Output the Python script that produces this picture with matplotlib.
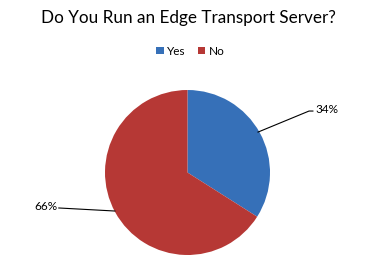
import matplotlib
matplotlib.use("Agg")
import matplotlib.pyplot as plt
from matplotlib.patches import Patch

# Datos del gráfico
categorias = ["Yes", "No"]
valores = [34, 66]
etiquetas = ["34%", "66%"]
colores = ["#3670B8", "#B63835"]

plt.rcParams['font.family'] = ['Lato', 'DejaVu Sans']

fig = plt.figure(figsize=(3.77, 2.72), dpi=100)
fig.patch.set_facecolor("white")

# Titulo
fig.text(0.5, 0.935, "Do You Run an Edge Transport Server?", ha="center", va="center",
         fontsize=12.3, color="black")

# Leyenda
handles = [Patch(facecolor=c, edgecolor="none") for c in colores]
fig.legend(handles, categorias, loc="center", bbox_to_anchor=(0.505, 0.812), ncol=2,
           frameon=False, fontsize=8.5, handlelength=0.65, handleheight=0.65,
           handletextpad=0.3, columnspacing=1.0)

# Tarta
ax = fig.add_axes([0.2785, 0.0625, 0.4377, 0.6066])
ax.pie(valores, colors=colores, startangle=90, counterclock=False, radius=1.0,
       wedgeprops=dict(linewidth=0))
ax.set_xlim(-1, 1)
ax.set_ylim(-1, 1)
ax.set_aspect("equal")
ax.axis("off")

# Etiquetas con lineas guia
ax.plot([0.855, 1.473, 1.52], [0.49, 0.745, 0.745], color="black", lw=0.8, clip_on=False)
ax.text(1.55, 0.765, etiquetas[0], ha="left", va="center", fontsize=8.5, clip_on=False)
ax.plot([-0.88, -1.56], [-0.467, -0.43], color="black", lw=0.8, clip_on=False)
ax.text(-1.58, -0.41, etiquetas[1], ha="right", va="center", fontsize=8.5, clip_on=False)

plt.savefig("out.png", dpi=100)
